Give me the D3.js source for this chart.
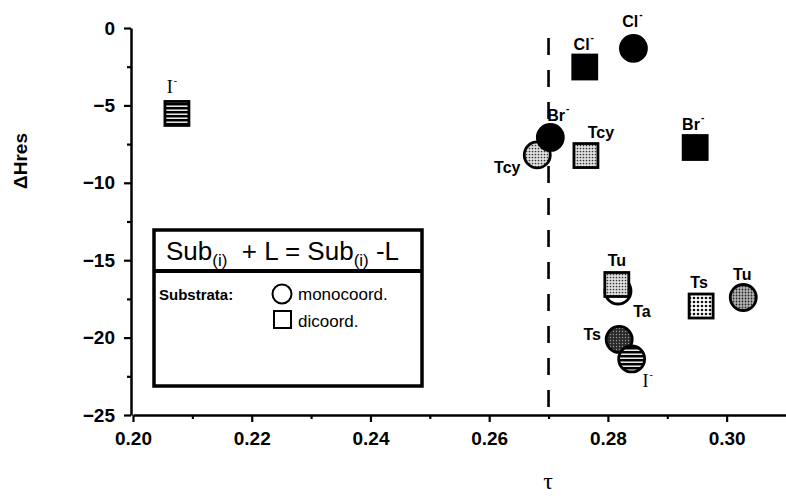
<!DOCTYPE html>
<html>
<head>
<meta charset="utf-8">
<script src="https://cdn.jsdelivr.net/npm/d3@7"></script>
<style>
  body { margin: 0; background: #fff; }
  svg { display: block; font-family: "Liberation Sans", Arial, sans-serif; }
</style>
</head>
<body>
<div id="chart"></div>
<script>
const ligands = ["Ta", "Tu", "Tcy", "Br", "Tcy", "Cl", "Cl", "Br", "I", "Ts", "I", "Ts", "Tu"];
const coord   = ["mono", "di", "mono", "mono", "di", "di", "mono", "di", "di", "mono", "mono", "di", "mono"];
const tau     = [0.2817, 0.2815, 0.2681, 0.2703, 0.2763, 0.2761, 0.2843, 0.2947, 0.2074, 0.2819, 0.2840, 0.2957, 0.3028];
const dHres   = [-16.99, -16.57, -8.20, -7.07, -8.24, -2.52, -1.32, -7.72, -5.52, -20.12, -21.38, -17.96, -17.41];
const anions  = ["Cl", "Br", "I"];

const xTicks = [0.20, 0.22, 0.24, 0.26, 0.28, 0.30];
const xMinor = [0.21, 0.23, 0.25, 0.27, 0.29];
const yTicks = [0, -5, -10, -15, -20, -25];
const yMinor = [-2.5, -7.5, -12.5, -17.5, -22.5];
const tauCut = 0.27;

const width = 786, height = 498;

const svg = d3.select("#chart").append("svg")
  .attr("width", width)
  .attr("height", height);

const x = d3.scaleLinear().domain([0.20, 0.31]).range([133, 786]);
const y = d3.scaleLinear().domain([-25, 0]).range([415, 28]);

// textures
const defs = svg.append("defs");
function dotPattern(id, size, bg, dot, r) {
  const p = defs.append("pattern").attr("id", id)
    .attr("width", size).attr("height", size)
    .attr("patternUnits", "userSpaceOnUse");
  p.append("rect").attr("width", size).attr("height", size).attr("fill", bg);
  p.append("circle").attr("cx", size / 2).attr("cy", size / 2).attr("r", r).attr("fill", dot);
}
dotPattern("dotsLight", 3, "#e0e0e0", "#333", 0.85);
dotPattern("dotsCoarse", 4, "#fff", "#111", 1.3);
dotPattern("dotsMid", 3, "#b5b5b5", "#222", 0.9);
dotPattern("dotsDark", 3, "#2a2a2a", "#999", 0.7);
const stripes = defs.append("pattern").attr("id", "stripes")
  .attr("width", 4).attr("height", 4).attr("patternUnits", "userSpaceOnUse");
stripes.append("rect").attr("width", 4).attr("height", 4).attr("fill", "#000");
stripes.append("rect").attr("y", 1.5).attr("width", 4).attr("height", 1.4).attr("fill", "#fff");

const fillFor = {
  "Ta mono": "#fff",
  "Tu di": "url(#dotsLight)",
  "Tu mono": "url(#dotsMid)",
  "Tcy mono": "url(#dotsLight)",
  "Tcy di": "url(#dotsLight)",
  "Ts di": "url(#dotsCoarse)",
  "Ts mono": "url(#dotsDark)",
  "Br mono": "#000", "Br di": "#000",
  "Cl mono": "#000", "Cl di": "#000",
  "I mono": "url(#stripes)", "I di": "url(#stripes)"
};

// axes
svg.append("g")
  .attr("transform", "translate(131,0)")
  .call(d3.axisLeft(y).tickValues(yTicks).tickSize(7).tickSizeOuter(0).tickPadding(9).tickFormat(d3.format("d")));
svg.append("g")
  .attr("transform", "translate(131,0)")
  .call(d3.axisLeft(y).tickValues(yMinor).tickSize(4).tickFormat(""))
  .select(".domain").remove();

svg.append("g")
  .attr("transform", "translate(0,415)")
  .call(d3.axisBottom(x).tickValues(xTicks).tickSize(7).tickSizeOuter(0).tickPadding(10).tickFormat(d3.format(".2f")));
svg.append("g")
  .attr("transform", "translate(0,415)")
  .call(d3.axisBottom(x).tickValues(xMinor).tickSize(4).tickFormat(""))
  .select(".domain").remove();

svg.selectAll(".domain").attr("stroke", "#000").attr("stroke-width", 2.5);
svg.selectAll(".tick line").attr("stroke", "#000").attr("stroke-width", 2.2);
svg.selectAll(".tick text")
  .attr("font-family", "Liberation Sans, Arial, sans-serif")
  .attr("font-size", 19)
  .attr("font-weight", "bold")
  .attr("fill", "#000");

svg.append("text")
  .attr("transform", "translate(27,161) rotate(-90)")
  .attr("text-anchor", "middle")
  .attr("font-size", 19)
  .attr("font-weight", "bold")
  .text("ΔHres");

svg.append("text")
  .attr("x", 548).attr("y", 489)
  .attr("text-anchor", "middle")
  .attr("font-family", "Liberation Serif, serif")
  .attr("font-size", 24)
  .text("τ");

// threshold
svg.append("line")
  .attr("x1", x(tauCut)).attr("x2", x(tauCut))
  .attr("y1", 38).attr("y2", y(-25))
  .attr("stroke", "#000")
  .attr("stroke-width", 2.6)
  .attr("stroke-dasharray", "17,15");

// points
const points = ligands.map((l, i) => ({ ligand: l, coord: coord[i], tau: tau[i], dH: dHres[i] }));
const labelOffset = [[24, 26], [0, -19], [-30, 18], [8, -16], [15, -18], [-1, -17], [-1, -21],
                     [-2, -18], [-5, -20], [-27, 1], [16, 28], [-2, -18], [-1, -18]];

const marks = svg.append("g");
points.forEach(d => {
  const cx = x(d.tau), cy = y(d.dH);
  const fill = fillFor[d.ligand + " " + d.coord];
  if (d.coord === "mono") {
    marks.append("circle")
      .attr("cx", cx).attr("cy", cy).attr("r", 13)
      .attr("fill", fill)
      .attr("stroke", "#000").attr("stroke-width", 2.8);
  } else {
    marks.append("rect")
      .attr("x", cx - 12).attr("y", cy - 12)
      .attr("width", 24).attr("height", 24)
      .attr("fill", fill)
      .attr("stroke", "#000").attr("stroke-width", 2.8);
  }
});

const labels = svg.append("g");
points.forEach((d, i) => {
  const isAnion = anions.includes(d.ligand);
  const serif = d.ligand === "I";
  const t = labels.append("text")
    .attr("x", x(d.tau) + labelOffset[i][0])
    .attr("y", y(d.dH) + labelOffset[i][1])
    .attr("text-anchor", "middle")
    .attr("font-family", serif ? "Liberation Serif, serif" : "Liberation Sans, Arial, sans-serif")
    .attr("font-weight", serif ? "normal" : "bold")
    .attr("font-size", serif ? 18 : 16);
  t.append("tspan").text(d.ligand);
  if (isAnion) {
    t.append("tspan").attr("dx", 1).attr("dy", -9).attr("font-size", 10).text("-");
  }
});

// legend box
const lg = svg.append("g");
lg.append("rect")
  .attr("x", 154).attr("y", 230)
  .attr("width", 268).attr("height", 156)
  .attr("fill", "#fff")
  .attr("stroke", "#000").attr("stroke-width", 3.5);
lg.append("line")
  .attr("x1", 154).attr("x2", 422)
  .attr("y1", 271).attr("y2", 271)
  .attr("stroke", "#000").attr("stroke-width", 4);

const title = lg.append("text")
  .attr("x", 166).attr("y", 260)
  .attr("font-size", 26)
  .style("white-space", "pre");
title.append("tspan").text("Sub");
title.append("tspan").attr("font-size", 17).attr("dy", 6).text("(i)");
title.append("tspan").attr("dy", -6).text("  + L = Sub");
title.append("tspan").attr("font-size", 17).attr("dy", 6).text("(i)");
title.append("tspan").attr("dy", -6).text(" -L");

lg.append("text")
  .attr("x", 159).attr("y", 300)
  .attr("font-size", 15).attr("font-weight", "bold")
  .text("Substrata:");
lg.append("circle")
  .attr("cx", 282).attr("cy", 294).attr("r", 9.5)
  .attr("fill", "#fff").attr("stroke", "#000").attr("stroke-width", 2);
lg.append("text")
  .attr("x", 298).attr("y", 300)
  .attr("font-size", 17)
  .text("monocoord.");
lg.append("rect")
  .attr("x", 274).attr("y", 311)
  .attr("width", 17).attr("height", 17)
  .attr("fill", "#fff").attr("stroke", "#000").attr("stroke-width", 2);
lg.append("text")
  .attr("x", 298).attr("y", 327)
  .attr("font-size", 17)
  .text("dicoord.");
</script>
</body>
</html>
